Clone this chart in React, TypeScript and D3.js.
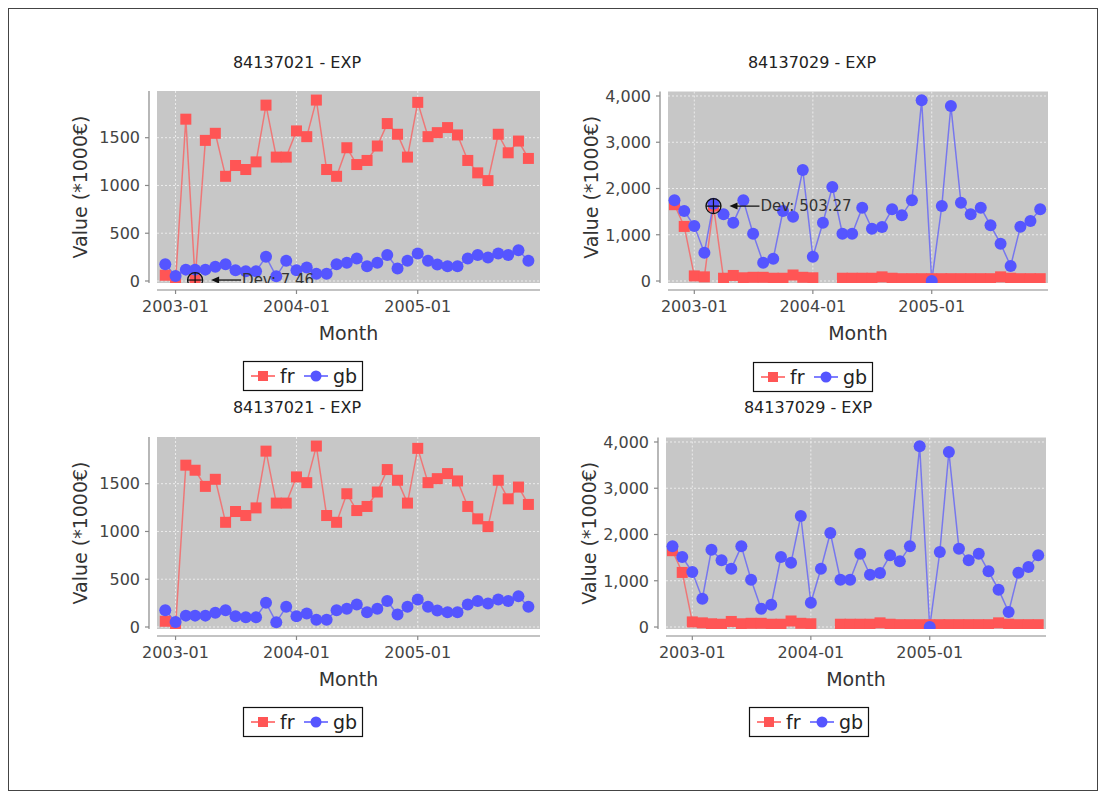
import React from "react";
import * as d3 from "d3";

// month categories (series start at 2002-11 on the right charts, 2002-12 on the left ones)
const monthsRight = [
  "2002-11", "2002-12",
  "2003-01", "2003-02", "2003-03", "2003-04", "2003-05", "2003-06",
  "2003-07", "2003-08", "2003-09", "2003-10", "2003-11", "2003-12",
  "2004-01", "2004-02", "2004-03", "2004-04", "2004-05", "2004-06",
  "2004-07", "2004-08", "2004-09", "2004-10", "2004-11", "2004-12",
  "2005-01", "2005-02", "2005-03", "2005-04", "2005-05", "2005-06",
  "2005-07", "2005-08", "2005-09", "2005-10", "2005-11", "2005-12",
];
const monthsLeft = monthsRight.slice(1);
const yearTicks = ["2003-01", "2004-01", "2005-01"];

// 84137021 - EXP
const fr21Raw = [60, 0, 1694, 10, 1472, 1546, 1096, 1209, 1167, 1247, 1841, 1297, 1297, 1571, 1511, 1894, 1167, 1096, 1395, 1219, 1262, 1413, 1648, 1536, 1297, 1870, 1511, 1553, 1606, 1529, 1262, 1132, 1051, 1536, 1342, 1465, 1283];
const fr21Fixed = [60, 0, 1694, 1641, 1472, 1546, 1096, 1209, 1167, 1247, 1841, 1297, 1297, 1571, 1511, 1894, 1167, 1096, 1395, 1219, 1262, 1413, 1648, 1536, 1297, 1870, 1511, 1553, 1606, 1529, 1262, 1132, 1051, 1536, 1342, 1465, 1283];
const gb21 = [176, 53, 119, 119, 119, 148, 176, 112, 102, 102, 253, 49, 211, 112, 141, 77, 77, 176, 190, 235, 155, 190, 271, 130, 211, 288, 211, 172, 155, 155, 235, 271, 246, 288, 271, 323, 211];

// 84137029 - EXP
const fr29Raw = [1650, 1180, 110, 90, 1620, 60, 120, 70, 80, 80, 60, 60, 130, 80, 70, null, null, 60, 60, 60, 60, 90, 60, 50, 50, 50, 50, 50, 50, 50, 50, 50, 50, 90, 60, 50, 50, 50];
const fr29Fixed = [1650, 1180, 110, 90, 70, 60, 120, 70, 80, 80, 60, 60, 130, 80, 70, null, null, 60, 60, 60, 60, 90, 60, 50, 50, 50, 50, 50, 50, 50, 50, 50, 50, 90, 60, 50, 50, 50];
const gb29 = [1744, 1513, 1189, 613, 1672, 1441, 1261, 1744, 1023, 396, 483, 1513, 1391, 2400, 526, 1261, 2032, 1023, 1023, 1586, 1131, 1167, 1549, 1420, 1744, 3906, 0, 1621, 3784, 1694, 1441, 1586, 1204, 807, 324, 1175, 1297, 1549];

const ticks21 = [0, 500, 1000, 1500];
const ticks29 = [0, 1000, 2000, 3000, 4000];

const parseMonth = d3.timeParse("%Y-%m");
const FONT = "DejaVu Sans, sans-serif";
const RED = "#ff5555";
const BLUE = "#5555ff";

type Anno = { month: string; value: number; text: string };
type PanelCfg = {
  id: string;
  title: string;
  titleX: number;
  titleY: number;
  left: number; right: number; top: number; bottom: number;
  xDomain: [Date, Date];
  yDomain: [number, number];
  yTicks: number[];
  yFmt: (v: number) => string;
  months: string[];
  fr: (number | null)[];
  gb: number[];
  anno?: Anno;
  legendX: number;
  legendY: number;
};

const leftDomain: [Date, Date] = [new Date(2002, 10, 6), new Date(2006, 0, 5)];
const rightDomain: [Date, Date] = [new Date(2002, 9, 12), new Date(2005, 11, 25)];
const plain = (v: number) => String(v);
const comma = d3.format(",");

const panels: PanelCfg[] = [
  {
    id: "tl", title: "84137021 - EXP", titleX: 297, titleY: 68,
    left: 157, right: 540, top: 91, bottom: 283,
    xDomain: leftDomain, yDomain: [-21, 1989], yTicks: ticks21, yFmt: plain,
    months: monthsLeft, fr: fr21Raw, gb: gb21,
    anno: { month: "2003-03", value: 10, text: "Dev: 7.46" },
    legendX: 243, legendY: 361,
  },
  {
    id: "tr", title: "84137029 - EXP", titleX: 812, titleY: 68,
    left: 668, right: 1048, top: 91.5, bottom: 283,
    xDomain: rightDomain, yDomain: [-43, 4097], yTicks: ticks29, yFmt: comma,
    months: monthsRight, fr: fr29Raw, gb: gb29,
    anno: { month: "2003-03", value: 1620, text: "Dev: 503.27" },
    legendX: 753, legendY: 362,
  },
  {
    id: "bl", title: "84137021 - EXP", titleX: 297, titleY: 413,
    left: 157, right: 540, top: 437, bottom: 629,
    xDomain: leftDomain, yDomain: [-21, 1989], yTicks: ticks21, yFmt: plain,
    months: monthsLeft, fr: fr21Fixed, gb: gb21,
    legendX: 243, legendY: 707,
  },
  {
    id: "br", title: "84137029 - EXP", titleX: 808, titleY: 413,
    left: 666, right: 1046, top: 437.5, bottom: 629,
    xDomain: rightDomain, yDomain: [-43, 4097], yTicks: ticks29, yFmt: comma,
    months: monthsRight, fr: fr29Fixed, gb: gb29,
    legendX: 749, legendY: 707,
  },
];

function Legend({ x, y }: { x: number; y: number }) {
  const cy = y + 15;
  return (
    <g fontFamily={FONT} fontSize={19} fill="#222">
      <rect x={x + 0.5} y={y + 0.5} width={119} height={29} fill="#fff" stroke="#111" strokeWidth={1.2} />
      <line x1={x + 8} x2={x + 32} y1={cy} y2={cy} stroke={RED} strokeWidth={1.5} />
      <rect x={x + 15} y={cy - 5} width={10} height={10} fill={RED} />
      <text x={x + 37} y={cy + 7}>fr</text>
      <line x1={x + 61} x2={x + 85} y1={cy} y2={cy} stroke={BLUE} strokeWidth={1.5} />
      <circle cx={x + 73} cy={cy} r={5.5} fill={BLUE} />
      <text x={x + 90} y={cy + 7}>gb</text>
    </g>
  );
}

function Panel({ p }: { p: PanelCfg }) {
  const x = d3.scaleTime().domain(p.xDomain).range([p.left, p.right]);
  const y = d3.scaleLinear().domain(p.yDomain).range([p.bottom, p.top]);
  const dates = p.months.map((m) => parseMonth(m) as Date);

  const frPts = p.fr.map((v, i) => ({ d: dates[i], v }));
  const gbPts = p.gb.map((v, i) => ({ d: dates[i], v }));

  const line = d3
    .line<{ d: Date; v: number | null }>()
    .defined((e) => e.v !== null)
    .x((e) => x(e.d))
    .y((e) => y(e.v as number));

  const axisX = p.left - 8;
  const axisY = p.bottom + 7;
  const midY = (p.top + p.bottom) / 2;
  const midX = (p.left + p.right) / 2;
  const clipId = `clip-${p.id}`;

  let anno: React.ReactNode = null;
  if (p.anno) {
    const ax = x(parseMonth(p.anno.month) as Date);
    const ay = y(p.anno.value);
    const r = 7.5;
    anno = (
      <g>
        <circle cx={ax} cy={ay} r={r} fill="none" stroke="#111" strokeWidth={1.3} />
        <line x1={ax - r} x2={ax + r} y1={ay} y2={ay} stroke="#111" strokeWidth={1.2} />
        <line x1={ax} x2={ax} y1={ay - r} y2={ay + r} stroke="#111" strokeWidth={1.2} />
        <line x1={ax + 20} x2={ax + 46} y1={ay} y2={ay} stroke="#111" strokeWidth={1.3} />
        <path d={`M${ax + 16},${ay} L${ax + 24},${ay - 3.5} L${ax + 24},${ay + 3.5} Z`} fill="#111" />
        <text x={ax + 47} y={ay} dominantBaseline="central" fontFamily={FONT} fontSize={15} fill="#333">
          {p.anno.text}
        </text>
      </g>
    );
  }

  return (
    <g>
      <defs>
        <clipPath id={clipId}>
          <rect x={p.left} y={p.top} width={p.right - p.left} height={p.bottom - p.top} />
        </clipPath>
      </defs>

      <text x={p.titleX} y={p.titleY} textAnchor="middle" fontFamily={FONT} fontSize={16} fill="#222">
        {p.title}
      </text>

      {/* plot background and grid */}
      <rect x={p.left} y={p.top} width={p.right - p.left} height={p.bottom - p.top} fill="#c7c7c7" />
      {p.yTicks.map((t) => (
        <line key={`gy${t}`} x1={p.left} x2={p.right} y1={y(t)} y2={y(t)} stroke="#ececec" strokeWidth={1} strokeDasharray="2,2" />
      ))}
      {yearTicks.map((m) => {
        const xx = x(parseMonth(m) as Date);
        return <line key={`gx${m}`} x1={xx} x2={xx} y1={p.top} y2={p.bottom} stroke="#ececec" strokeWidth={1} strokeDasharray="2,2" />;
      })}

      {/* series */}
      <g clipPath={`url(#${clipId})`}>
        <path d={line(frPts) || ""} fill="none" stroke={RED} strokeOpacity={0.7} strokeWidth={1.5} />
        <path d={line(gbPts) || ""} fill="none" stroke={BLUE} strokeOpacity={0.7} strokeWidth={1.5} />
        {frPts.filter((e) => e.v !== null).map((e, i) => (
          <rect key={`fr${i}`} x={x(e.d) - 5.5} y={y(e.v as number) - 5.5} width={11} height={11} fill={RED} />
        ))}
        {gbPts.map((e, i) => (
          <circle key={`gb${i}`} cx={x(e.d)} cy={y(e.v)} r={6} fill={BLUE} />
        ))}
        {anno}
      </g>

      {/* y axis */}
      <line x1={axisX} x2={axisX} y1={p.top} y2={p.bottom} stroke="#888" strokeWidth={1.2} />
      {p.yTicks.map((t) => (
        <g key={`ty${t}`}>
          <line x1={axisX - 4} x2={axisX} y1={y(t)} y2={y(t)} stroke="#888" strokeWidth={1.2} />
          <text x={axisX - 9} y={y(t)} dy="0.36em" textAnchor="end" fontFamily={FONT} fontSize={16} fill="#444">
            {p.yFmt(t)}
          </text>
        </g>
      ))}
      <text
        transform={`translate(${axisX - 62},${midY}) rotate(-90)`}
        textAnchor="middle"
        fontFamily={FONT}
        fontSize={19}
        fill="#333"
      >
        Value (*1000€)
      </text>

      {/* x axis */}
      <line x1={p.left} x2={p.right} y1={axisY} y2={axisY} stroke="#888" strokeWidth={1.2} />
      {yearTicks.map((m) => {
        const xx = x(parseMonth(m) as Date);
        return (
          <g key={`tx${m}`}>
            <line x1={xx} x2={xx} y1={axisY} y2={axisY + 4} stroke="#888" strokeWidth={1.2} />
            <text x={xx} y={axisY + 22} textAnchor="middle" fontFamily={FONT} fontSize={16} fill="#444">
              {m}
            </text>
          </g>
        );
      })}
      <text x={midX} y={axisY + 50} textAnchor="middle" fontFamily={FONT} fontSize={19} fill="#333">
        Month
      </text>

      <Legend x={p.legendX} y={p.legendY} />
    </g>
  );
}

export default function App() {
  return (
    <svg width={1106} height={792} style={{ position: "absolute", left: 0, top: 0, background: "#fff" }}>
      <rect x={0} y={0} width={1106} height={792} fill="#fff" />
      <rect x={8.5} y={8.5} width={1089} height={782} fill="none" stroke="#444" strokeWidth={1} />
      {panels.map((p) => (
        <Panel key={p.id} p={p} />
      ))}
    </svg>
  );
}
